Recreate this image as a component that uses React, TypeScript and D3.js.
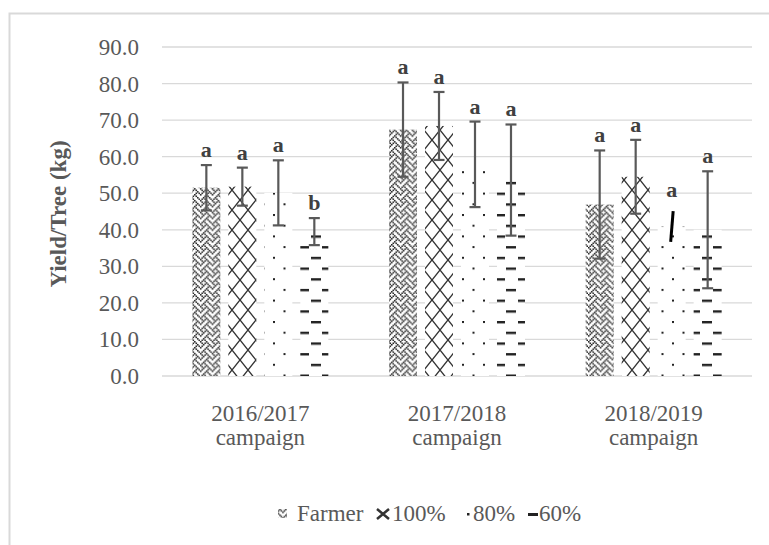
import React from "react";
import * as d3 from "d3";

const categories = ["2016/2017", "2017/2018", "2018/2019"];
const seriesNames = ["Farmer", "100%", "80%", "60%"];
const farmer = [51.5, 67.4, 46.9];
const full = [51.8, 68.4, 54.5];
const eighty = [50.1, 57.9, 40.9];
const sixty = [39.5, 53.6, 40.0];
const farmerErr = [6.2, 12.9, 14.8];
const fullErr = [5.2, 9.3, 10.1];
const eightyErr = [8.9, 11.7, 4.2];
const sixtyErr = [3.7, 15.2, 16.0];
const farmerLetters = ["a", "a", "a"];
const fullLetters = ["a", "a", "a"];
const eightyLetters = ["a", "a", "a"];
const sixtyLetters = ["b", "a", "a"];
const yTicks = [0, 10, 20, 30, 40, 50, 60, 70, 80, 90];

const W = 769;
const H = 545;
const FONT = "'Liberation Serif', 'Times New Roman', serif";

// 8x8 weave hatch bitmap (rows), used to build the Farmer fill pattern
const WEAVE = [0x88, 0x54, 0x22, 0x45, 0x88, 0x14, 0x22, 0x51];
const PX = 1.47;

export default function App() {
  const x0 = d3.scaleBand<string>().domain(categories).range([162, 752]).padding(0);
  const x1 = d3
    .scaleBand<string>()
    .domain(seriesNames)
    .range([0, x0.bandwidth()])
    .paddingInner(0.222)
    .paddingOuter(0.843);
  const y = d3.scaleLinear().domain([0, 90]).range([376, 47]);

  const values = [farmer, full, eighty, sixty];
  const errs = [farmerErr, fullErr, eightyErr, sixtyErr];
  const letters = [farmerLetters, fullLetters, eightyLetters, sixtyLetters];
  const fills = ["url(#pFarmer)", "url(#pFull)", "url(#pEighty)", "url(#pSixty)"];

  const bars: any[] = [];
  categories.forEach((c, ci) => {
    seriesNames.forEach((s, si) => {
      const v = values[si][ci];
      const e = errs[si][ci];
      const bx = (x0(c) as number) + (x1(s) as number);
      bars.push({ key: c + s, ci, si, v, e, bx, bw: x1.bandwidth(), letter: letters[si][ci] });
    });
  });

  const weaveCells: { x: number; y: number }[] = [];
  WEAVE.forEach((row, r) => {
    for (let c = 0; c < 8; c++) {
      if (row & (0x80 >> c)) weaveCells.push({ x: c * PX, y: r * PX });
    }
  });

  const errColor = "#595959";

  return (
    <svg
      width={W}
      height={H}
      style={{ position: "absolute", left: 0, top: 0, background: "#fff" }}
      fontFamily={FONT}
    >
      <defs>
        <pattern id="pFarmer" patternUnits="userSpaceOnUse" width={8 * PX} height={8 * PX}>
          <rect width={8 * PX} height={8 * PX} fill="#fff" />
          {weaveCells.map((c, i) => (
            <rect key={i} x={c.x} y={c.y} width={PX + 0.1} height={PX + 0.1} fill="#222" />
          ))}
        </pattern>
        <pattern id="pFull" patternUnits="userSpaceOnUse" width={16} height={20}>
          <rect width={16} height={20} fill="#fff" />
          <path d="M0,0 L16,20 M16,0 L0,20" stroke="#333" strokeWidth={1.4} fill="none" />
        </pattern>
        <pattern id="pEighty" patternUnits="userSpaceOnUse" width={21} height={21.4}>
          <rect width={21} height={21.4} fill="#fff" />
          <rect x={0} y={0} width={2} height={2} fill="#222" />
          <rect x={10.5} y={10.7} width={2} height={2} fill="#222" />
        </pattern>
        <pattern id="pSixty" patternUnits="userSpaceOnUse" width={23} height={21.4}>
          <rect width={23} height={21.4} fill="#fff" />
          <rect x={12} y={0} width={10} height={2.4} fill="#222" />
          <rect x={0} y={10.7} width={10} height={2.4} fill="#222" />
        </pattern>
      </defs>

      <rect x={9.5} y={13.5} width={W + 20} height={H + 20} fill="#fff" stroke="#d9d9d9" strokeWidth={2} />

      {yTicks.map((t) => (
        <g key={t}>
          <line x1={162} x2={752} y1={y(t)} y2={y(t)} stroke="#d9d9d9" strokeWidth={1.3} />
          <text x={139} y={y(t)} dy="0.35em" textAnchor="end" fontSize={23} fill="#595959">
            {t.toFixed(1)}
          </text>
        </g>
      ))}

      <text
        transform={`translate(58,214) rotate(-90)`}
        textAnchor="middle"
        dy="0.35em"
        fontSize={23}
        fontWeight="bold"
        fill="#595959"
      >
        Yield/Tree (kg)
      </text>

      {bars.map((b) => (
        <rect key={b.key} x={b.bx} y={y(b.v)} width={b.bw} height={y(0) - y(b.v)} fill={fills[b.si]} />
      ))}

      {bars.map((b) => {
        const cx = b.bx + b.bw / 2;
        const top = y(b.v + b.e);
        const bot = y(b.v - b.e);
        const odd = b.ci === 2 && b.si === 2;
        return (
          <g key={"e" + b.key}>
            {odd ? (
              <line x1={cx + 1.5} x2={cx - 1} y1={top} y2={bot} stroke="#000" strokeWidth={3} />
            ) : (
              <g stroke={errColor} strokeWidth={2.2}>
                <line x1={cx} x2={cx} y1={top} y2={bot} />
                <line x1={cx - 5.5} x2={cx + 5.5} y1={top} y2={top} />
                <line x1={cx - 5.5} x2={cx + 5.5} y1={bot} y2={bot} />
              </g>
            )}
            <text
              x={cx}
              y={top - (odd ? 14 : 8)}
              textAnchor="middle"
              fontSize={22}
              fontWeight="bold"
              fill="#404040"
            >
              {b.letter}
            </text>
          </g>
        );
      })}

      {categories.map((c) => {
        const cx = (x0(c) as number) + x0.bandwidth() / 2;
        return (
          <text key={c} x={cx} textAnchor="middle" fontSize={23} fill="#595959">
            <tspan x={cx} y={421}>
              {c}
            </tspan>
            <tspan x={cx} y={445}>
              campaign
            </tspan>
          </text>
        );
      })}

      <g>
        <rect x={278} y={509} width={9} height={9} fill="url(#pFarmer)" />
        <text x={297} y={521} fontSize={23} fill="#595959">
          {seriesNames[0]}
        </text>
        <path d="M377,509 L389,519 M389,509 L377,519" stroke="#333" strokeWidth={2.5} />
        <text x={392} y={521} fontSize={23} fill="#595959">
          {seriesNames[1]}
        </text>
        <rect x={467} y={513} width={2.5} height={2.5} fill="#222" />
        <text x={473} y={521} fontSize={23} fill="#595959">
          {seriesNames[2]}
        </text>
        <rect x={528} y={513} width={10} height={3} fill="#222" />
        <text x={539} y={521} fontSize={23} fill="#595959">
          {seriesNames[3]}
        </text>
      </g>
    </svg>
  );
}
